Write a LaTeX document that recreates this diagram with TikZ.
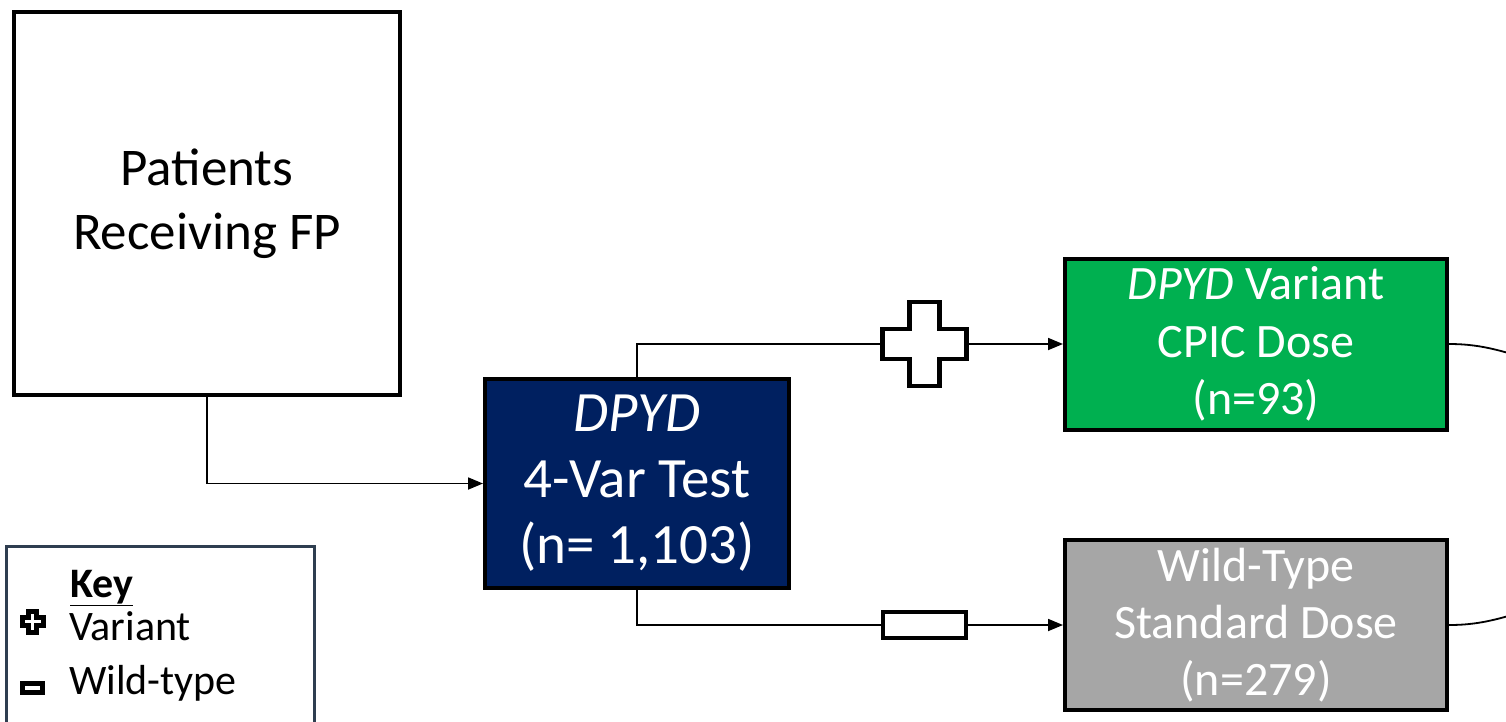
\documentclass[tikz,border=0pt]{standalone}
\usepackage{fontspec}
\setmainfont{Carlito}
\usetikzlibrary{arrows.meta,positioning}
\definecolor{navycol}{RGB}{0,32,96}
\definecolor{greencol}{RGB}{0,176,80}
\definecolor{graycol}{RGB}{166,166,166}
\definecolor{keycol}{RGB}{47,62,80}
\tikzset{
  box/.style={rectangle,draw=black,line width=4pt,inner sep=0pt,align=center},
  ln/.style={-,draw=black,line width=1.8pt},
  ar/.style={-{Triangle[length=15pt,width=12pt]},draw=black,line width=1.8pt},
  sym/.style={draw=black,fill=white,line width=4.5pt},
  keysym/.style={draw=black,fill=white,line width=5pt},
  spot/.style={rectangle,inner sep=0pt,minimum size=#1},
  plusshape/.pic={\path[pic actions] (-0.18,-0.5) -- (0.18,-0.5) -- (0.18,-0.18) -- (0.5,-0.18)
     -- (0.5,0.18) -- (0.18,0.18) -- (0.18,0.5) -- (-0.18,0.5) -- (-0.18,0.18) -- (-0.5,0.18)
     -- (-0.5,-0.18) -- (-0.18,-0.18) -- cycle;}
}
\begin{document}
\begin{tikzpicture}[x=1pt,y=-1pt]
  \useasboundingbox (0,0) rectangle (1506,721);
  \clip (0,0) rectangle (1506,721);
  \node[box,minimum width=386,minimum height=383,font=\fontsize{53}{64}\selectfont] (patients) at (207,203.5){Patients\\Receiving FP};
  \node[box,fill=navycol,text=white,minimum width=304,minimum height=209,font=\fontsize{57}{66}\selectfont] (dpyd) at (637,483.5){\textit{DPYD}\\4-Var Test\\(n= 1,103)};
  \node[box,fill=greencol,text=white,minimum width=382,minimum height=171,font=\fontsize{48}{57.5}\selectfont] (variant) at (1256,344){\textit{DPYD} Variant\\CPIC Dose\\(n=93)};
  \node[box,fill=graycol,text=white,minimum width=382,minimum height=170,font=\fontsize{48}{57}\selectfont] (wild) at (1256,625){Wild-Type\\Standard Dose\\(n=279)};
  % genotype marks on the branches
  \node[spot=84] (plus) at (924.5,344){};
  \pic[sym,scale=84] at (plus.center) {plusshape};
  \node[sym,rectangle,inner sep=0pt,minimum width=83,minimum height=26] (minus) at (924.5,625){};
  \coordinate (vout) at (1540,362);
  \coordinate (wout) at (1540,607);
  \draw[ar] (patients.south) |- (dpyd.west);
  \draw[ln] (dpyd.north) |- (plus.west);
  \draw[ar] (plus.east) -- (variant.west);
  \draw[ln] (dpyd.south) |- (minus.west);
  \draw[ar] (minus.east) -- (wild.west);
  \draw[ln] (variant.east) to[out=0,in=165] (vout);
  \draw[ln] (wild.east) to[out=0,in=195] (wout);
  % key
  \node[draw=keycol,line width=3pt,rectangle,minimum width=308,minimum height=200,anchor=north west] (keybox) at (5,545){};
  \node[anchor=base west,inner sep=0pt,font=\fontsize{42}{50}\selectfont] (keyhead) at (70,597){\underline{\textbf{Key}}};
  \node[spot=21] (keyplus) at (32.5,621.5){};
  \pic[keysym,scale=21] at (keyplus.center) {plusshape};
  \node[anchor=base west,inner sep=0pt,font=\fontsize{42}{50}\selectfont] (keyvar) at (69,640){Variant};
  \node[keysym,rectangle,inner sep=0pt,minimum width=20,minimum height=9] (keyminus) at (32.5,688){};
  \node[anchor=base west,inner sep=0pt,font=\fontsize{42}{50}\selectfont] (keywild) at (69,694){Wild-type};
\end{tikzpicture}
\end{document}
